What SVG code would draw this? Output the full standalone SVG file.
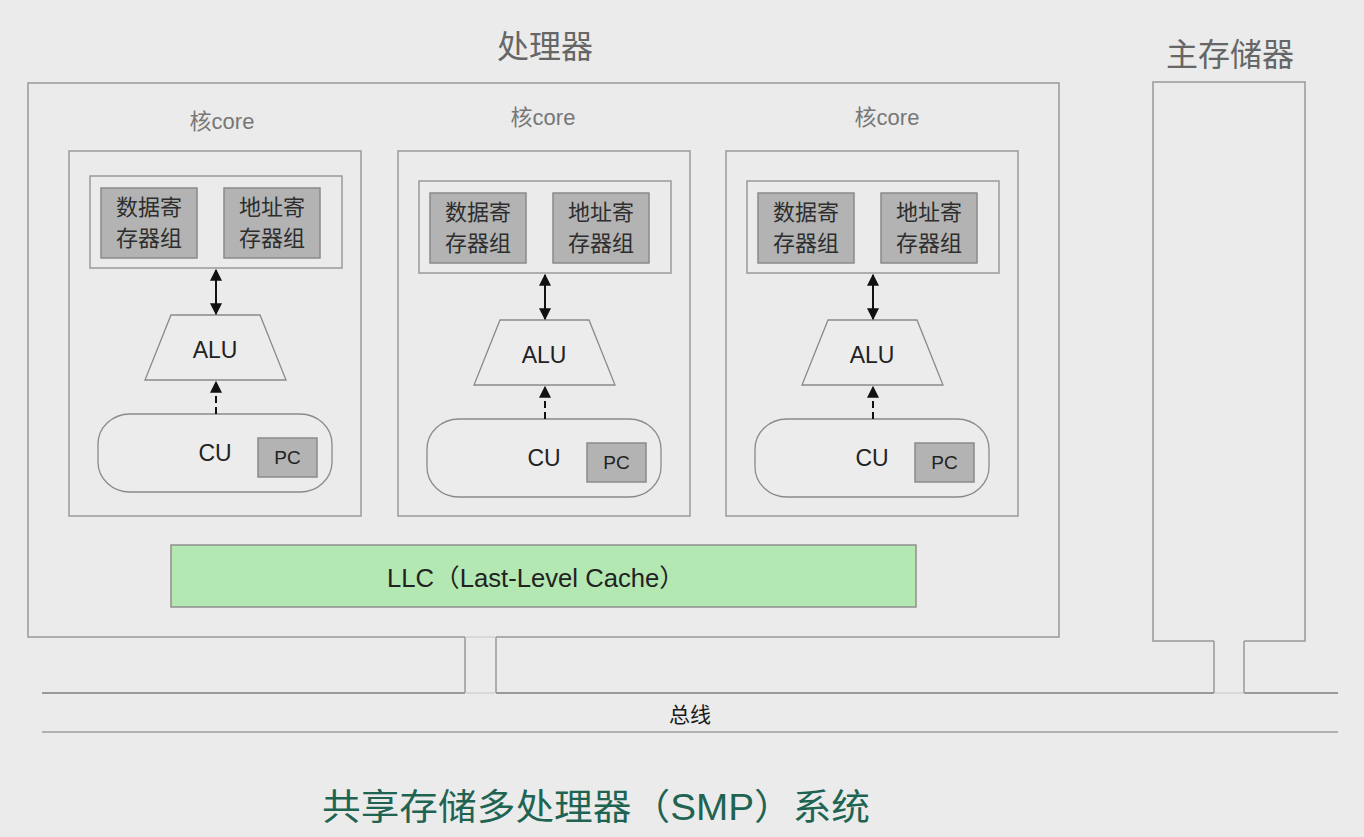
<svg xmlns="http://www.w3.org/2000/svg" width="1364" height="837" viewBox="0 0 1364 837">
<defs>
<marker id="ah" viewBox="0 0 10 10" refX="9" refY="5" markerWidth="6" markerHeight="6" orient="auto-start-reverse" markerUnits="strokeWidth">
<path d="M0,0 L10,5 L0,10 z" fill="#111"/>
</marker>
<style>
text{font-family:"Liberation Sans","Noto Sans CJK SC",sans-serif;text-anchor:middle}
.box{fill:none;stroke:#9a9a9a;stroke-width:1.5}
.reg{fill:#b3b3b3;stroke:#8a8a8a;stroke-width:1.5}
.shape{fill:#ececec;stroke:#8a8a8a;stroke-width:1.3}
.t{font-size:23px;fill:#222}
.rt{font-size:22px;fill:#2e2e2e}
.pc{font-size:19px;fill:#222}
.title{font-size:32px;fill:#666}
.core{font-size:22px;fill:#777}
.ln{stroke:#999;stroke-width:1.5;fill:none}
.faint{stroke:#d2d2d2;stroke-width:1.5;fill:none}
.bus{stroke:#999;stroke-width:2.2;fill:none}
.bus2{stroke:#b0b0b0;stroke-width:2;fill:none}
.arr{stroke:#111;stroke-width:2;fill:none}
.dash{stroke:#111;stroke-width:2;fill:none;stroke-dasharray:7 4}
</style>
</defs>
<rect width="1364" height="837" fill="#ebebeb"/>

<g id="processor">
<text class="title" x="545" y="58">处理器</text>
<path class="ln" d="M465,637 L28,637 L28,83 L1059,83 L1059,637 L496,637"/>
<path class="faint" d="M466,637 L495,637"/>
</g>

<g id="memory">
<text class="title" x="1230" y="66">主存储器</text>
<path class="ln" d="M1214,641 L1153,641 L1153,82 L1305,82 L1305,641 L1244,641"/>
</g>

<g id="core1">
<text class="core" x="222" y="129">核core</text>
<rect class="box" x="69" y="151" width="292" height="365"/>
<g transform="translate(-657,-5)">
<rect class="box" x="747" y="181" width="252" height="92"/>
<rect class="reg" x="758" y="193" width="96" height="70"/>
<text class="rt" x="806" y="220">数据寄</text><text class="rt" x="806" y="251">存器组</text>
<rect class="reg" x="881" y="193" width="96" height="70"/>
<text class="rt" x="929" y="220">地址寄</text><text class="rt" x="929" y="251">存器组</text>
<polygon class="shape" points="828,320 917,320 943,385 802,385"/>
<text class="t" x="872" y="363">ALU</text>
<rect class="shape" x="755" y="419" width="234" height="78" rx="32" ry="30"/>
<text class="t" x="872" y="466">CU</text>
<rect class="reg" x="915" y="443" width="59" height="39"/>
<text class="pc" x="944.5" y="469">PC</text>
</g>
</g>

<g id="core2">
<text class="core" x="543" y="125">核core</text>
<rect class="box" x="398" y="151" width="292" height="365"/>
<g transform="translate(-328,0)">
<rect class="box" x="747" y="181" width="252" height="92"/>
<rect class="reg" x="758" y="193" width="96" height="70"/>
<text class="rt" x="806" y="220">数据寄</text><text class="rt" x="806" y="251">存器组</text>
<rect class="reg" x="881" y="193" width="96" height="70"/>
<text class="rt" x="929" y="220">地址寄</text><text class="rt" x="929" y="251">存器组</text>
<polygon class="shape" points="828,320 917,320 943,385 802,385"/>
<text class="t" x="872" y="363">ALU</text>
<rect class="shape" x="755" y="419" width="234" height="78" rx="32" ry="30"/>
<text class="t" x="872" y="466">CU</text>
<rect class="reg" x="915" y="443" width="59" height="39"/>
<text class="pc" x="944.5" y="469">PC</text>
</g>
</g>

<g id="core3">
<text class="core" x="887" y="125">核core</text>
<rect class="box" x="726" y="151" width="292" height="365"/>
<rect class="box" x="747" y="181" width="252" height="92"/>
<rect class="reg" x="758" y="193" width="96" height="70"/>
<text class="rt" x="806" y="220">数据寄</text><text class="rt" x="806" y="251">存器组</text>
<rect class="reg" x="881" y="193" width="96" height="70"/>
<text class="rt" x="929" y="220">地址寄</text><text class="rt" x="929" y="251">存器组</text>
<polygon class="shape" points="828,320 917,320 943,385 802,385"/>
<text class="t" x="872" y="363">ALU</text>
<rect class="shape" x="755" y="419" width="234" height="78" rx="32" ry="30"/>
<text class="t" x="872" y="466">CU</text>
<rect class="reg" x="915" y="443" width="59" height="39"/>
<text class="pc" x="944.5" y="469">PC</text>
</g>

<g id="llc">
<rect x="171" y="545" width="745" height="62" fill="#b4e8b2" stroke="#8f8f8f" stroke-width="1.5"/>
<text x="536" y="587" style="font-size:25px;fill:#222" textLength="298" lengthAdjust="spacingAndGlyphs">LLC（Last-Level Cache）</text>
</g>

<g id="bus">
<path class="bus" d="M42,693 L465,693 M496,693 L1214,693 M1244,693 L1338,693"/>
<path class="faint" d="M466,693 L495,693 M1215,693 L1243,693"/>
<path class="bus2" d="M42,732 L1338,732"/>
<text style="font-size:21px;fill:#1a1a1a" x="690" y="722">总线</text>
</g>

<g id="connectors">
<line class="arr" x1="216" y1="270" x2="216" y2="314" marker-start="url(#ah)" marker-end="url(#ah)"/>
<line class="dash" x1="216" y1="414" x2="216" y2="382" marker-end="url(#ah)"/>
<line class="arr" x1="545" y1="275" x2="545" y2="319" marker-start="url(#ah)" marker-end="url(#ah)"/>
<line class="dash" x1="545" y1="419" x2="545" y2="387" marker-end="url(#ah)"/>
<line class="arr" x1="873" y1="275" x2="873" y2="319" marker-start="url(#ah)" marker-end="url(#ah)"/>
<line class="dash" x1="873" y1="419" x2="873" y2="387" marker-end="url(#ah)"/>
<path class="ln" d="M465,637 L465,693 M496,637 L496,693"/>
<path class="ln" d="M1214,641 L1214,693 M1244,641 L1244,693"/>
</g>

<g id="caption">
<text x="596" y="820" style="font-size:36px;fill:#1f6452" textLength="548" lengthAdjust="spacingAndGlyphs">共享存储多处理器（SMP）系统</text>
</g>
</svg>
